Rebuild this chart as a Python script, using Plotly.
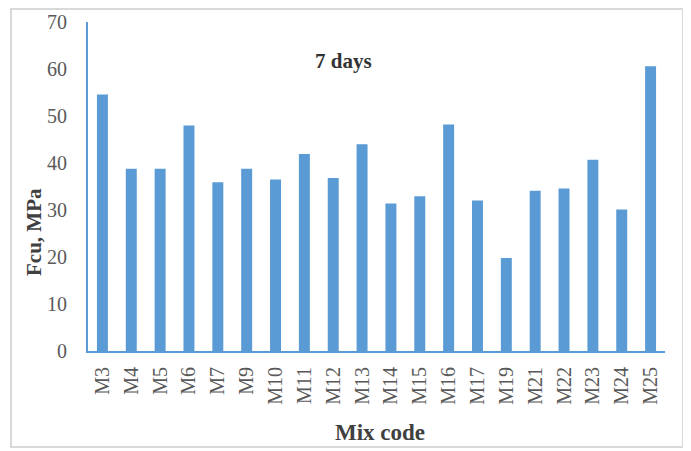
import plotly.graph_objects as go

mix_codes = ["M3", "M4", "M5", "M6", "M7", "M9", "M10", "M11", "M12", "M13",
             "M14", "M15", "M16", "M17", "M19", "M21", "M22", "M23", "M24", "M25"]
fcu_7days = [54.6, 38.8, 38.8, 48.0, 35.9, 38.8, 36.5, 41.9, 36.8, 44.0,
             31.4, 32.9, 48.2, 32.0, 19.8, 34.1, 34.6, 40.7, 30.1, 60.6]

y_ticks = [0, 10, 20, 30, 40, 50, 60, 70]

BLUE = "#5B9BD5"
GREY = "#595959"
SERIF = "Liberation Serif, Times New Roman, serif"

# figure sits 8px in from the page corner (body margin)
W, H = 683, 443
L, R, T, B = 80, 26, 14, 100
pw, ph = W - L - R, H - T - B


def px_x(x):
    return (x - L) / pw


def px_y(y):
    return (H - B - y) / ph


fig = go.Figure(go.Bar(
    x=mix_codes,
    y=fcu_7days,
    marker=dict(color=BLUE, line=dict(width=0)),
))

fig.update_layout(
    width=W,
    height=H,
    margin=dict(l=L, r=R, t=T, b=B),
    paper_bgcolor="white",
    plot_bgcolor="white",
    bargap=0.62,
    showlegend=False,
    font=dict(family=SERIF, color=GREY),
)

fig.update_xaxes(
    type="category",
    tickangle=-90,
    tickfont=dict(size=20, color=GREY),
    showline=True,
    linecolor=BLUE,
    linewidth=2,
    showgrid=False,
    ticks="",
    ticklabelstandoff=6,
    automargin=False,
)
fig.update_yaxes(
    range=[0, 70],
    tickvals=y_ticks,
    tickfont=dict(size=20, color=GREY),
    showline=True,
    linecolor=BLUE,
    linewidth=2,
    showgrid=False,
    zeroline=False,
    ticks="",
    ticklabelstandoff=15,
    automargin=False,
)

# chart frame
fig.add_shape(
    type="rect", xref="paper", yref="paper",
    x0=px_x(3), x1=px_x(675), y0=px_y(439), y1=px_y(1),
    line=dict(color="#D9D9D9", width=2),
)

texts = [
    ("<b>7 days</b>", 335, 53, 0, 21, "#333333"),
    ("<b>Fcu, MPa</b>", 26, 224, -90, 21, "#404040"),
    ("<b>Mix code</b>", 372, 424, 0, 23, "#404040"),
]
for text, x, y, angle, size, color in texts:
    fig.add_annotation(
        text=text, xref="paper", yref="paper",
        x=px_x(x), y=px_y(y), xanchor="center", yanchor="middle",
        textangle=angle, showarrow=False,
        font=dict(family=SERIF, size=size, color=color),
    )

fig.write_html("out.html")
